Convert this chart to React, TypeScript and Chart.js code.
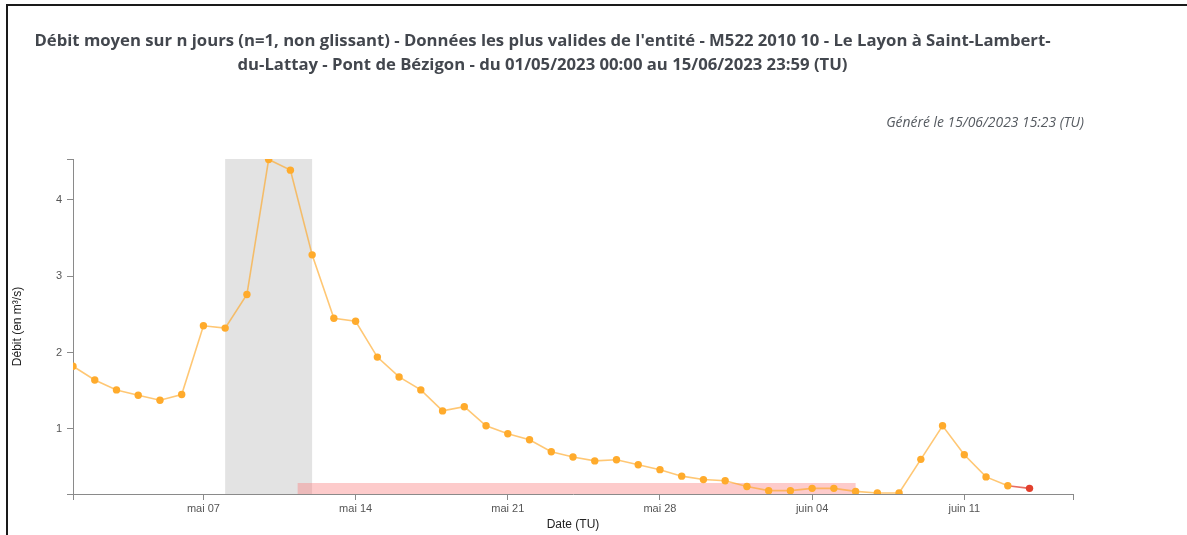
import React, { useEffect, useRef } from 'react';
import { Chart, registerables } from 'chart.js';

Chart.register(...registerables);

const titleLines = [
  "Débit moyen sur n jours (n=1, non glissant) - Données les plus valides de l'entité - M522 2010 10 - Le Layon à Saint-Lambert-",
  'du-Lattay - Pont de Bézigon - du 01/05/2023 00:00 au 15/06/2023 23:59 (TU)',
];
const generatedText = 'Généré le 15/06/2023 15:23 (TU)';
const yAxisTitle = 'Débit (en m³/s)';
const xAxisTitle = 'Date (TU)';

const periodStart = '2023-05-01T00:00';
const periodEnd = '2023-06-16T00:00';

const dates = [
  '2023-05-01', '2023-05-02', '2023-05-03', '2023-05-04', '2023-05-05', '2023-05-06', '2023-05-07',
  '2023-05-08', '2023-05-09', '2023-05-10', '2023-05-11', '2023-05-12', '2023-05-13', '2023-05-14',
  '2023-05-15', '2023-05-16', '2023-05-17', '2023-05-18', '2023-05-19', '2023-05-20', '2023-05-21',
  '2023-05-22', '2023-05-23', '2023-05-24', '2023-05-25', '2023-05-26', '2023-05-27', '2023-05-28',
  '2023-05-29', '2023-05-30', '2023-05-31', '2023-06-01', '2023-06-02', '2023-06-03', '2023-06-04',
  '2023-06-05', '2023-06-06', '2023-06-07', '2023-06-08', '2023-06-09', '2023-06-10', '2023-06-11',
  '2023-06-12', '2023-06-13', '2023-06-14',
];
const debits = [
  1.82, 1.64, 1.51, 1.44, 1.375, 1.45, 2.35,
  2.32, 2.76, 4.53, 4.39, 3.28, 2.45, 2.41,
  1.94, 1.68, 1.51, 1.235, 1.29, 1.04, 0.935,
  0.856, 0.70, 0.63, 0.58, 0.595, 0.53, 0.465,
  0.38, 0.335, 0.32, 0.245, 0.19, 0.19, 0.22,
  0.22, 0.18, 0.16, 0.16, 0.60, 1.04, 0.66,
  0.37, 0.255, 0.22,
];
// 'v' = validée, 'p' = provisoire (red)
const statuts = [
  'v', 'v', 'v', 'v', 'v', 'v', 'v', 'v', 'v', 'v', 'v', 'v', 'v', 'v', 'v',
  'v', 'v', 'v', 'v', 'v', 'v', 'v', 'v', 'v', 'v', 'v', 'v', 'v', 'v', 'v',
  'v', 'v', 'v', 'v', 'v', 'v', 'v', 'v', 'v', 'v', 'v', 'v', 'v', 'v', 'p',
];

const tickDates = ['2023-05-07T00:00', '2023-05-14T00:00', '2023-05-21T00:00', '2023-05-28T00:00', '2023-06-04T00:00', '2023-06-11T00:00'];
const tickLabels = ['mai 07', 'mai 14', 'mai 21', 'mai 28', 'juin 04', 'juin 11'];
const yTickValues = [1, 2, 3, 4];
const yMin = 0.146;
const yMax = 4.536;

const greyBand = ['2023-05-08T00:00', '2023-05-12T00:00'];
const pinkBand = ['2023-05-11T08:00', '2023-06-06T00:00'];

const DAY = 86400000;
const toMs = (s: string) => Date.parse((s.length === 10 ? s + 'T00:00' : s) + ':00Z');
const toDay = (s: string) => (toMs(s) - toMs(periodStart)) / DAY;

const ORANGE_LINE = 'rgba(255,165,30,0.62)';
const ORANGE_PT = '#ffab2c';
const RED_LINE = 'rgba(226,60,45,0.75)';
const RED_PT = '#e2402d';
const AXIS = '#8a8a8a';

const bandsPlugin = {
  id: 'bands',
  beforeDatasetsDraw(chart: any) {
    const { ctx, chartArea, scales } = chart;
    const x = scales.x;
    ctx.save();
    const g1 = x.getPixelForValue(toDay(greyBand[0]));
    const g2 = x.getPixelForValue(toDay(greyBand[1]));
    ctx.fillStyle = '#e3e3e3';
    ctx.fillRect(g1, chartArea.top, g2 - g1, chartArea.bottom - chartArea.top);
    const p1 = x.getPixelForValue(toDay(pinkBand[0]));
    const p2 = x.getPixelForValue(toDay(pinkBand[1]));
    ctx.fillStyle = 'rgba(250,125,125,0.4)';
    ctx.fillRect(p1, chartArea.bottom - 11, p2 - p1, 11);
    ctx.restore();
  },
};

const generatedPlugin = {
  id: 'generated',
  afterDraw(chart: any) {
    const { ctx } = chart;
    ctx.save();
    ctx.font = 'italic 13.9px "Open Sans"';
    ctx.fillStyle = '#555a60';
    ctx.textAlign = 'right';
    ctx.textBaseline = 'middle';
    ctx.fillText(generatedText, 1084, 123);
    ctx.restore();
  },
};

export default function App() {
  const ref = useRef<HTMLCanvasElement | null>(null);

  useEffect(() => {
    if (!ref.current) return;
    const points = dates.map((d, i) => ({ x: toDay(d), y: debits[i] }));
    const xMax = toDay(periodEnd);
    const chart = new Chart(ref.current, {
      type: 'line',
      data: {
        datasets: [
          {
            data: points,
            borderColor: ORANGE_LINE,
            borderWidth: 1.6,
            pointRadius: 3.7,
            pointBorderWidth: 0,
            pointBackgroundColor: statuts.map((s) => (s === 'p' ? RED_PT : ORANGE_PT)),
            tension: 0,
            segment: {
              borderColor: (c: any) => (statuts[c.p1DataIndex] === 'p' ? RED_LINE : ORANGE_LINE),
            },
          },
        ],
      },
      options: {
        responsive: false,
        animation: false,
        layout: { padding: { left: 12, right: 114, top: 0, bottom: 0 } },
        plugins: {
          legend: { display: false },
          tooltip: { enabled: false },
          title: {
            display: true,
            text: titleLines,
            color: '#43474e',
            font: { family: '"Open Sans"', weight: 'bold', size: 16.7, lineHeight: '23.5px' },
            padding: { top: 29.5, bottom: 82.5 },
          },
        },
        scales: {
          x: {
            type: 'linear',
            min: 0,
            max: xMax,
            afterFit: (s: any) => { s.height = 41; },
            afterBuildTicks: (s: any) => {
              s.ticks = [0, ...tickDates.map(toDay), xMax].map((v) => ({ value: v }));
            },
            ticks: {
              autoSkip: false,
              maxRotation: 0,
              padding: 2,
              color: '#555',
              font: { family: '"Liberation Sans", Arial', size: 11 },
              callback: (v: any) => {
                const i = tickDates.findIndex((t) => Math.abs(toDay(t) - Number(v)) < 1e-6);
                return i >= 0 ? tickLabels[i] : '';
              },
            },
            grid: { drawOnChartArea: false, drawTicks: true, tickLength: 6, color: AXIS },
            border: { display: true, color: AXIS, width: 1 },
            title: {
              display: true,
              text: xAxisTitle,
              color: '#222',
              font: { family: '"Liberation Sans", Arial', size: 12 },
              padding: { top: 0, bottom: 3 },
            },
          },
          y: {
            type: 'linear',
            min: yMin,
            max: yMax,
            afterFit: (s: any) => { s.width = 61; },
            afterBuildTicks: (s: any) => {
              s.ticks = [yMin, ...yTickValues, yMax].map((v) => ({ value: v }));
            },
            ticks: {
              autoSkip: false,
              padding: 5,
              color: '#555',
              font: { family: '"Liberation Sans", Arial', size: 11 },
              callback: (v: any) => (yTickValues.includes(Number(v)) ? String(v) : ''),
            },
            grid: { drawOnChartArea: false, drawTicks: true, tickLength: 6, color: AXIS },
            border: { display: true, color: AXIS, width: 1 },
            title: {
              display: true,
              text: yAxisTitle,
              color: '#222',
              font: { family: '"Liberation Sans", Arial', size: 12 },
              padding: { top: -2, bottom: 0 },
            },
          },
        },
      },
      plugins: [bandsPlugin, generatedPlugin],
    });
    return () => chart.destroy();
  }, []);

  return (
    <div style={{ position: 'fixed', left: 0, top: 0, width: 1187, height: 535, background: '#fff', overflow: 'hidden' }}>
      <canvas ref={ref} width={1187} height={535} style={{ position: 'absolute', left: 0, top: 0 }} />
      <div
        style={{
          position: 'absolute',
          left: 6,
          top: 4,
          width: 1200,
          height: 560,
          borderTop: '2px solid #1a1a1a',
          borderLeft: '2px solid #1a1a1a',
          pointerEvents: 'none',
        }}
      />
    </div>
  );
}
